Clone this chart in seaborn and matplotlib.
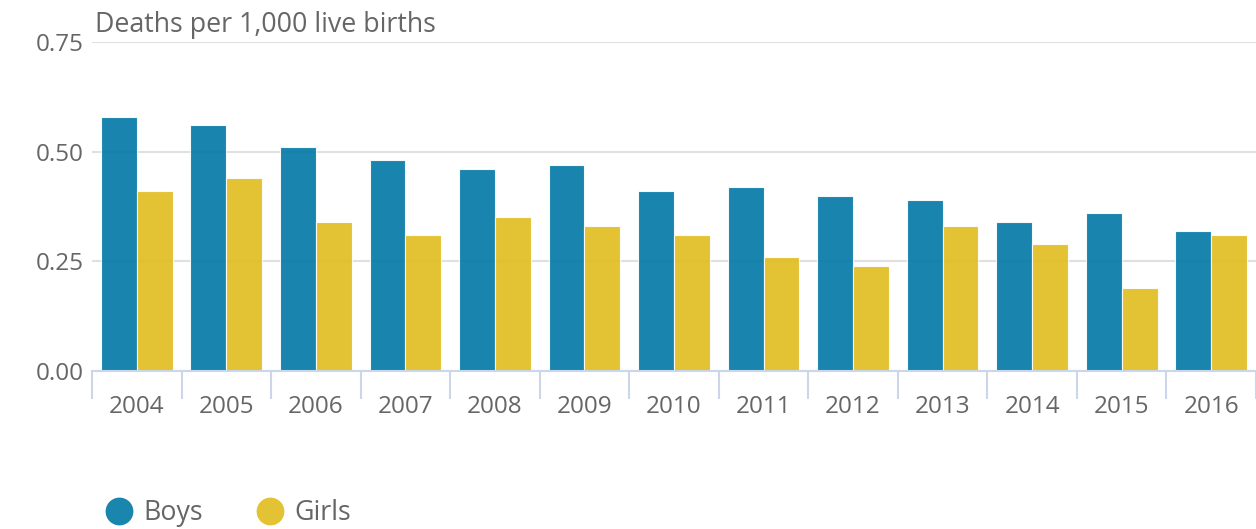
import matplotlib
matplotlib.use("Agg")
import matplotlib.pyplot as plt
import seaborn as sns
import pandas as pd
import numpy as np
from matplotlib.lines import Line2D

years = ["2004", "2005", "2006", "2007", "2008", "2009", "2010",
         "2011", "2012", "2013", "2014", "2015", "2016"]
boys = [0.58, 0.56, 0.51, 0.48, 0.46, 0.47, 0.41, 0.42, 0.40, 0.39, 0.34, 0.36, 0.32]
girls = [0.41, 0.44, 0.34, 0.31, 0.35, 0.33, 0.31, 0.26, 0.24, 0.33, 0.29, 0.19, 0.31]
series = ["Boys", "Girls"]
colors = ["#0077a4", "#e0bc1d"]
legend_colors = ["#1a85ad", "#e3c334"]
yticks = [0.0, 0.25, 0.5, 0.75]

df = pd.DataFrame({
    "Year": years * 2,
    "Value": boys + girls,
    "Sex": ["Boys"] * len(years) + ["Girls"] * len(years),
})

sns.set_theme(style="white")
plt.rcParams["font.family"] = ["Open Sans", "DejaVu Sans"]

fig = plt.figure(figsize=(12.56, 5.29), dpi=100)
ax = fig.add_axes([92 / 1256, 1 - 371 / 529, 1 - 92 / 1256, (371 - 42) / 529])

sns.barplot(data=df, x="Year", y="Value", hue="Sex", palette=colors,
            width=0.8, ax=ax, legend=False, alpha=0.9,
            edgecolor=(1, 1, 1, 0.6), linewidth=0.8, saturation=1)

ax.set_ylim(0, 0.75)
ax.set_xlim(-0.5, len(years) - 0.5)
ax.set_yticks(yticks)
ax.set_yticklabels([f"{v:.2f}" for v in yticks])
ax.yaxis.grid(True, color="#e0e0e0", linewidth=1.5)
ax.set_axisbelow(True)

for s in ["top", "right", "left"]:
    ax.spines[s].set_visible(False)
ax.spines["bottom"].set_color("#ccd6eb")
ax.spines["bottom"].set_linewidth(1.5)
ax.spines["bottom"].set_zorder(3)

ax.tick_params(axis="y", length=0, pad=6, labelsize=17.5, labelcolor="#666666")
ax.set_xticks(np.arange(-0.5, len(years), 1.0), minor=True)
ax.tick_params(axis="x", which="minor", bottom=True, length=20, width=1.5, color="#ccd6eb")
ax.tick_params(axis="x", which="major", bottom=True, length=0, pad=17, labelsize=17.5,
               labelcolor="#666666")

ax.set_xlabel("")
ax.set_ylabel("")
fig.text(95 / 1256, 1 - 25 / 529, "Deaths per 1,000 live births", fontsize=19.3,
         color="#666666", va="center", ha="left")

handles = [Line2D([0], [0], marker="o", linestyle="", markersize=19,
                  markerfacecolor=c, markeredgecolor=c) for c in legend_colors]
fig.legend(handles, series, loc="center left", bbox_to_anchor=(79 / 1256, 1 - 513 / 529),
           frameon=False, ncol=2, fontsize=19.3, labelcolor="#666666",
           handletextpad=0.3, columnspacing=1.9, handlelength=1.2)

fig.savefig("out.png", dpi=100)
